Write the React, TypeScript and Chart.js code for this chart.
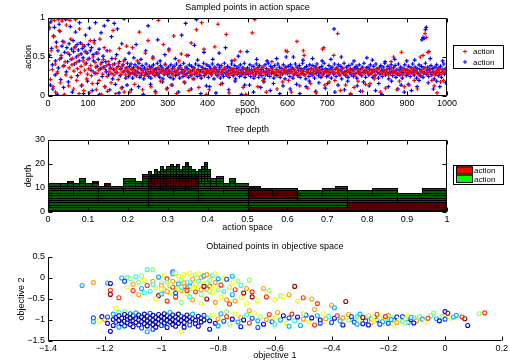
import React, { useEffect, useRef } from "react";
import { Chart, registerables } from "chart.js";
Chart.register(...registerables);

const FONT = "'Liberation Sans', Arial, Helvetica, sans-serif";

// ---------- tick labels ----------
const epochTicks = [0, 100, 200, 300, 400, 500, 600, 700, 800, 900, 1000];
const actionTicks = [0, 0.5, 1];
const spaceTicks = [0, 0.1, 0.2, 0.3, 0.4, 0.5, 0.6, 0.7, 0.8, 0.9, 1];
const depthTicks = [0, 10, 20, 30];
const obj1Ticks = [-1.4, -1.2, -1, -0.8, -0.6, -0.4, -0.2, 0, 0.2];
const obj2Ticks = [-1.5, -1, -0.5, 0, 0.5];

// ---------- panel 1: sampled points [epoch, action] ----------
const redPoints: number[][] = [
[1,.45],[3,.93],[4,.88],[6,.21],[8,.58],[9,.99],[11,.34],[13,.12],[14,.76],[16,.97],[18,.41],[19,.05],[21,.63],[23,.29],[24,.31],[26,.98],[28,.84],[29,.47],[31,.17],[33,.52],[35,.96],[36,.99],[38,.38],[40,.69],[41,.02],[43,.44],[45,.27],[46,.91],[48,.99],[50,.55],[52,.13],[53,.36],[55,.97],[57,.73],[58,.24],[60,.4],[62,.48],[64,.09],[65,.32],[67,.62],[69,.98],[71,.43],[72,.2],[74,.35],[76,.52],[78,.03],[79,.86],[81,.3],[83,.38],[85,.14],[86,.66],[88,.45],[90,.07],[92,.33],[93,.41],[95,.57],[97,.22],[99,.28],
[100,.47],[102,.35],[104,.04],[106,.71],[107,.39],[109,.26],[111,.16],[113,.5],[114,.31],[116,.68],[118,.43],[120,.37],[121,.08],[123,.29],[125,.55],[127,.33],[128,.2],[130,.73],[132,.41],[134,.02],[135,.36],[137,.28],[139,.47],[141,.62],[142,.12],[144,.34],[146,.39],[148,.25],[149,.06],[151,.44],[153,.31],[155,.58],[156,.35],[158,.17],[160,.29],[162,.4],[163,.84],[165,.27],[167,.33],[169,.48],[170,.03],[172,.36],[174,.3],[176,.21],[177,.42],[179,.61],[181,.34],[183,.28],[184,.1],[186,.38],[188,.31],[190,.45],[191,.05],[193,.33],[195,.27],[197,.64],[198,.36],
[201,.32],[205,.28],[209,.35],[212,.3],[216,.33],[220,.27],[224,.31],[227,.36],[231,.29],[235,.33],[238,.3],[242,.26],[246,.34],[250,.31],[253,.28],[257,.35],[261,.3],[264,.33],[268,.27],[272,.32],[276,.36],[279,.29],[283,.31],[287,.34],[290,.28],[294,.32],[298,.3],
[205,.05],[212,.62],[217,.15],[224,.45],[229,.82],[237,.08],[244,.55],[251,.71],[258,.12],[263,.48],[270,.04],[277,.97],[282,.19],[289,.66],[294,.41],[297,.09],
[302,.34],[305,.29],[309,.31],[313,.27],[316,.35],[320,.3],[324,.32],[328,.28],[331,.36],[335,.31],[339,.29],[342,.33],[346,.27],[350,.34],[354,.3],[357,.32],[361,.28],[365,.35],[368,.31],[372,.29],[376,.33],[380,.3],[383,.26],[387,.34],[391,.31],[394,.28],[398,.33],
[303,.58],[309,.14],[315,.77],[322,.03],[328,.45],[334,.54],[341,.18],[347,.52],[353,.07],[359,.68],[366,.22],[372,.85],[378,.11],[385,.94],[391,.6],[397,.02],
[402,.3],[406,.33],[409,.28],[413,.31],[417,.35],[420,.29],[424,.32],[428,.27],[431,.34],[435,.3],[439,.33],[442,.36],[446,.29],[450,.31],[453,.27],[457,.33],[461,.3],[464,.35],[468,.28],[472,.32],[475,.3],[479,.34],[483,.29],[486,.31],[490,.36],[494,.28],[497,.32],
[404,.08],[418,.63],[426,.92],[433,.15],[447,.79],[454,.04],[468,.46],[482,.57],[489,.11],[496,.02],
[501,.31],[505,.34],[508,.29],[512,.32],[516,.27],[519,.35],[523,.3],[527,.33],[530,.28],[534,.31],[538,.36],[541,.3],[545,.27],[549,.33],[552,.31],[556,.29],[560,.35],[563,.32],[567,.28],[571,.3],[574,.34],[578,.31],[582,.27],[585,.33],[589,.3],[593,.35],[596,.29],
[512,.81],[518,.98],[526,.12],[539,.2],[547,.05],[561,.44],[574,.09],[588,.18],[596,.58],[600,.57],
[600,.32],[604,.29],[607,.34],[611,.31],[615,.27],[618,.33],[622,.3],[626,.36],[629,.28],[633,.32],[637,.3],[640,.34],[644,.27],[648,.31],[651,.33],[655,.29],[659,.35],[662,.3],[666,.28],[670,.32],[673,.36],[677,.31],[681,.29],[684,.33],[688,.27],[692,.31],[695,.34],[699,.3],
[603,.2],[610,.05],[624,.7],[631,.13],[640,.58],[642,.52],[651,.1],[658,.16],[672,.04],[688,.6],[691,.62],[694,.14],
[703,.32],[706,.28],[710,.34],[714,.31],[717,.29],[721,.35],[725,.3],[728,.33],[732,.27],[736,.31],[739,.36],[743,.3],[747,.28],[750,.33],[754,.31],[758,.35],[761,.29],[765,.32],[769,.27],[772,.34],[776,.3],[780,.32],[783,.28],[787,.35],[791,.31],[794,.29],[798,.33],
[705,.18],[716,.52],[719,.2],[726,.8],[733,.07],[746,.14],[758,.03],[767,.11],[777,.19],[788,.06],[796,.15],
[801,.31],[805,.28],[809,.34],[812,.3],[816,.33],[820,.27],[823,.32],[827,.35],[831,.29],[834,.31],[838,.28],[842,.34],[845,.3],[849,.33],[853,.27],[856,.31],[860,.36],[864,.29],[867,.32],[871,.3],[875,.34],[878,.28],[882,.31],[886,.33],[889,.27],[893,.35],[897,.3],
[807,.16],[818,.22],[833,.05],[846,.1],[860,.44],[866,.5],[874,.08],[881,.19],[886,.56],[893,.12],
[901,.33],[904,.29],[908,.31],[912,.35],[915,.28],[919,.32],[923,.3],[926,.34],[930,.27],[934,.31],[937,.33],[941,.29],[945,.36],[948,.3],[952,.28],[956,.32],[959,.34],[963,.29],[967,.31],[970,.27],[974,.33],[978,.3],[981,.35],[985,.28],[989,.32],[992,.3],[996,.34],[999,.29],
[905,.14],[918,.2],[926,.09],[933,.5],[940,.52],[945,.8],[948,.75],[952,.56],[955,.57],[962,.2],[968,.13],[975,.04],[984,.18],[991,.2]
];

const bluePoints: number[][] = [
[1,.33],[2,.86],[4,.52],[6,.14],[7,.95],[9,.61],[11,.4],[12,.09],[14,.77],[16,.88],[18,.27],[19,.45],[21,.69],[23,.02],[25,.58],[26,.36],[28,.92],[30,.83],[32,.21],[33,.49],[35,.64],[37,.7],[39,.11],[40,.39],[42,.56],[44,.98],[46,.31],[47,.62],[49,.44],[51,.18],[53,.67],[54,.53],[56,.89],[58,.47],[59,.6],[61,.05],[63,.71],[64,.57],[66,.41],[68,.63],[69,.82],[71,.5],[73,.66],[74,.26],[76,.59],[78,.45],[79,.94],[81,.68],[83,.54],[84,.13],[86,.61],[88,.49],[89,.03],[91,.64],[93,.57],[94,.78],[96,.42],[98,.55],[99,.19],
[101,.66],[103,.48],[104,.87],[106,.58],[108,.33],[109,.62],[111,.07],[113,.53],[114,.45],[116,.71],[118,.29],[119,.94],[121,.55],[123,.38],[124,.16],[126,.47],[128,.6],[129,.02],[131,.35],[133,.81],[135,.43],[136,.25],[138,.51],[140,.37],[141,.9],[143,.12],[145,.44],[146,.31],[148,.58],[150,.97],[152,.27],[153,.4],[155,.08],[157,.36],[159,.76],[160,.48],[162,.22],[164,.34],[166,.93],[167,.41],[169,.15],[171,.3],[172,.53],[174,.86],[176,.38],[178,.04],[179,.44],[181,.26],[183,.35],[185,.67],[186,.11],[188,.4],[190,.31],[191,.99],[193,.47],[195,.23],[196,.36],[198,.14],[199,.42],
[200,.31],[202,.25],[204,.38],[206,.29],[208,.41],[210,.34],[212,.23],[214,.36],[216,.28],[218,.4],[220,.32],[222,.26],[224,.37],[226,.3],[228,.42],[230,.24],[232,.35],[234,.27],[236,.39],[238,.33],[240,.22],[242,.36],[244,.3],[246,.41],[248,.28],[250,.34],[252,.25],[254,.38],[256,.31],[258,.23],[260,.37],[262,.29],[264,.4],[266,.33],[268,.26],[270,.35],[272,.3],[274,.42],[276,.27],[278,.34],[280,.24],[282,.39],[284,.31],[286,.36],[288,.22],[290,.33],[292,.28],[294,.4],[296,.3],[298,.35],
[203,.55],[209,.08],[215,.49],[221,.66],[227,.12],[233,.47],[239,.02],[245,.58],[251,.9],[257,.15],[263,.5],[269,.06],[275,.72],[281,.45],[287,.18],[293,.53],[299,.1],[262,1.0],
[300,.27],[302,.37],[304,.32],[306,.24],[308,.4],[310,.29],[312,.35],[314,.22],[316,.38],[318,.31],[320,.26],[322,.41],[324,.33],[326,.28],[328,.36],[330,.23],[332,.39],[334,.3],[336,.34],[338,.25],[340,.42],[342,.32],[344,.27],[346,.37],[348,.29],[350,.35],[352,.24],[354,.4],[356,.31],[358,.26],[360,.38],[362,.33],[364,.22],[366,.36],[368,.28],[370,.41],[372,.3],[374,.25],[376,.34],[378,.39],[380,.27],[382,.32],[384,.23],[386,.37],[388,.31],[390,.42],[392,.26],[394,.35],[396,.29],[398,.4],
[303,.6],[311,.14],[319,.48],[327,.05],[335,.78],[343,.17],[351,.52],[359,.09],[367,.65],[375,.46],[383,.03],[391,.56],[397,.13],[345,.93],[372,.98],
[400,.33],[402,.24],[404,.38],[406,.3],[408,.35],[410,.27],[412,.41],[414,.32],[416,.22],[418,.37],[420,.29],[422,.34],[424,.26],[426,.4],[428,.31],[430,.36],[432,.23],[434,.39],[436,.28],[438,.33],[440,.25],[442,.42],[444,.3],[446,.35],[448,.27],[450,.38],[452,.32],[454,.24],[456,.36],[458,.29],[460,.41],[462,.34],[464,.26],[466,.31],[468,.39],[470,.22],[472,.35],[474,.28],[476,.37],[478,.3],[480,.25],[482,.4],[484,.33],[486,.27],[488,.36],[490,.3],[492,.42],[494,.24],[496,.34],[498,.29],
[405,.12],[413,.47],[421,.04],[429,.55],[437,.16],[445,.62],[453,.08],[461,.45],[469,.19],[477,.51],[485,.02],[493,.14],[499,.57],
[500,.36],[502,.28],[504,.32],[506,.4],[508,.25],[510,.34],[512,.3],[514,.38],[516,.23],[518,.33],[520,.27],[522,.41],[524,.31],[526,.36],[528,.24],[530,.39],[532,.29],[534,.34],[536,.26],[538,.37],[540,.32],[542,.22],[544,.4],[546,.3],[548,.35],[550,.27],[552,.42],[554,.33],[556,.25],[558,.38],[560,.29],[562,.36],[564,.31],[566,.23],[568,.39],[570,.28],[572,.34],[574,.26],[576,.41],[578,.32],[580,.37],[582,.24],[584,.3],[586,.35],[588,.28],[590,.4],[592,.33],[594,.22],[596,.37],[598,.31],
[505,.14],[515,.05],[523,.47],[533,.11],[541,.18],[549,.45],[557,.07],[565,.16],[573,.48],[581,.03],[589,.13],[597,.5],
[600,.29],[602,.38],[604,.33],[606,.25],[608,.4],[610,.31],[612,.36],[614,.23],[616,.34],[618,.28],[620,.41],[622,.3],[624,.37],[626,.26],[628,.33],[630,.39],[632,.24],[634,.35],[636,.29],[638,.42],[640,.32],[642,.27],[644,.36],[646,.22],[648,.38],[650,.31],[652,.34],[654,.25],[656,.4],[658,.3],[660,.35],[662,.27],[664,.39],[666,.33],[668,.23],[670,.37],[672,.29],[674,.41],[676,.32],[678,.26],[680,.36],[682,.3],[684,.24],[686,.38],[688,.34],[690,.28],[692,.42],[694,.31],[696,.35],[698,.25],
[607,.09],[615,.5],[623,.15],[631,.03],[639,.46],[647,.12],[655,.19],[663,.48],[671,.06],[679,.17],[687,.45],[695,.1],
[700,.33],[702,.26],[704,.39],[706,.3],[708,.35],[710,.23],[712,.37],[714,.31],[716,.28],[718,.41],[720,.34],[722,.25],[724,.36],[726,.3],[728,.4],[730,.27],[732,.33],[734,.38],[736,.22],[738,.35],[740,.29],[742,.42],[744,.31],[746,.26],[748,.37],[750,.32],[752,.24],[754,.39],[756,.3],[758,.34],[760,.27],[762,.41],[764,.33],[766,.25],[768,.36],[770,.29],[772,.38],[774,.23],[776,.35],[778,.31],[780,.4],[782,.28],[784,.34],[786,.26],[788,.37],[790,.3],[792,.42],[794,.32],[796,.24],[798,.36],
[701,.16],[709,.47],[717,.86],[719,.05],[727,.14],[735,.5],[743,.08],[751,.19],[759,.02],[767,.45],[775,.13],[783,.06],[791,.18],[799,.49],
[800,.31],[802,.37],[804,.27],[806,.34],[808,.4],[810,.29],[812,.33],[814,.24],[816,.38],[818,.32],[820,.26],[822,.41],[824,.35],[826,.3],[828,.23],[830,.36],[832,.28],[834,.39],[836,.33],[838,.25],[840,.37],[842,.31],[844,.42],[846,.27],[848,.34],[850,.3],[852,.38],[854,.22],[856,.35],[858,.29],[860,.4],[862,.32],[864,.26],[866,.36],[868,.3],[870,.39],[872,.24],[874,.33],[876,.28],[878,.41],[880,.34],[882,.27],[884,.37],[886,.31],[888,.23],[890,.35],[892,.3],[894,.4],[896,.33],[898,.26],
[805,.13],[813,.46],[821,.07],[829,.16],[837,.02],[845,.44],[853,.12],[861,.19],[869,.47],[877,.09],[885,.14],[893,.05],[899,.45],
[900,.34],[902,.28],[904,.38],[906,.31],[908,.25],[910,.36],[912,.3],[914,.41],[916,.33],[918,.27],[920,.37],[922,.32],[924,.23],[926,.35],[928,.29],[930,.4],[932,.34],[934,.26],[936,.38],[938,.31],[940,.24],[942,.36],[944,.3],[946,.42],[948,.28],[950,.33],[952,.37],[954,.25],[956,.34],[958,.3],[960,.39],[962,.27],[964,.35],[966,.31],[968,.22],[970,.37],[972,.29],[974,.4],[976,.33],[978,.26],[980,.36],[982,.3],[984,.38],[986,.24],[988,.34],[990,.31],[992,.41],[994,.28],[996,.35],[998,.3],
[903,.15],[911,.07],[919,.46],[925,.12],[930,.2],[937,.72],[940,.75],[943,.74],[946,.85],[948,.88],[953,.17],[958,.48],[966,.09],[974,.19],[982,.12],[989,.45],[996,.17]
];

// ---------- panel 2: tree leaves [start, end, depth] ----------
const treeLeaves: number[][] = [
[0,.03125,12],[.03125,.046875,12],[.046875,.0625,13],[.0625,.078125,12],[.078125,.09375,14],[.09375,.109375,12],[.109375,.125,13],[.125,.140625,11],[.140625,.15625,12],[.15625,.1875,11],[.1875,.21875,14],[.21875,.234375,13],[.234375,.25,16],
[.25,.2578125,17],[.2578125,.265625,16],[.265625,.2734375,18],[.2734375,.28125,17],[.28125,.2890625,19],[.2890625,.296875,18],[.296875,.3046875,19],[.3046875,.3125,20],[.3125,.3203125,19],[.3203125,.328125,20],[.328125,.3359375,18],[.3359375,.34375,19],[.34375,.3515625,21],[.3515625,.359375,19],[.359375,.3671875,18],[.3671875,.375,17],
[.375,.3828125,18],[.3828125,.390625,19],[.390625,.3984375,21],[.3984375,.40625,18],[.40625,.421875,14],[.421875,.4375,15],[.4375,.453125,12],[.453125,.46875,14],[.46875,.5,12],
[.5,.53125,11],[.53125,.5625,10],[.5625,.625,10],[.625,.6875,9],[.6875,.71875,10],[.71875,.75,11],[.75,.8125,9],[.8125,.875,10],[.875,.9375,8],[.9375,1,10]
];
// red (first action) blocks: [start, end, fromLevel, toLevel)
const treeRedBlocks: number[][] = [
[.046875,.0625,12,13],[.109375,.125,12,13],[.140625,.15625,11,12],[.25,.375,9,16],[.5,.5625,6,11],[.5625,.625,6,9],[.5,.75,0,2],[.75,1,0,4]
];

// ---------- panel 3: objective points [obj1, obj2, colour index] ----------
const objPoints: number[][] = [
[-1.28,-0.18,3],[-1.24,-0.11,7],[-1.19,-0.12,3],[-1.18,-0.13,1],[-1.18,-0.29,8],[-1.18,-0.39,9],[-1.15,-0.47,8],[-1.16,-0.72,6],[-1.13,-0.8,5],
[-1.14,0.0,3],[-1.12,0.01,4],[-1.11,-0.02,5],[-1.09,0.03,4],[-1.1,-0.15,7],[-1.12,-0.22,6],[-1.1,-0.3,8],[-1.08,-0.1,5],[-1.07,-0.25,3],[-1.08,-0.4,7],[-1.06,-0.05,6],[-1.05,0.2,4],[-1.03,0.2,5],[-1.05,-0.18,8],[-1.04,-0.32,4],[-1.03,-0.08,7],[-1.02,-0.22,6],[-1.01,0.02,3],[-1.01,-0.42,9],[-1.0,-0.12,5],[-0.99,-0.28,7],[-0.99,0.05,6],[-0.98,-0.02,8],[-0.97,-0.19,4],[-0.97,-0.35,6],[-0.96,0.15,2],[-0.96,0.1,3],[-0.96,-0.08,7],[-0.95,-0.25,5],[-0.95,-0.45,8],[-0.94,0.04,6],[-0.94,-0.14,3],[-0.93,-0.3,7],[-0.93,-0.05,5],[-0.92,0.08,6],[-0.92,-0.2,8],[-0.91,-0.1,4],[-0.91,-0.38,6],[-0.9,0.1,6],[-0.9,-0.27,5],[-0.89,-0.03,7],[-0.89,-0.16,3],[-0.88,0.07,5],[-0.88,-0.33,8],[-0.87,-0.22,6],[-0.87,-0.08,4],[-0.86,0.01,7],[-0.86,-0.4,5],[-0.85,-0.14,6],[-0.85,0.05,3],[-0.84,-0.26,7],[-0.84,-0.5,9],[-0.83,-0.06,5],[-0.83,-0.19,8],[-0.82,-0.35,6],[-0.82,0.06,4],[-0.81,-0.11,7],[-0.81,-0.58,7],[-0.8,-0.28,5],[-0.8,-0.02,3],[-0.79,-0.45,6],[-0.79,-0.17,8],[-0.78,0.0,6],[-0.78,-0.32,4],[-0.77,-0.03,2],[-0.77,-0.52,7],[-0.76,-0.22,5],[-0.76,-0.62,8],[-0.75,-0.12,6],[-0.75,-0.4,3],[-0.74,-0.55,7],[-0.74,-0.28,8],[-0.73,-0.07,5],[-0.72,-0.47,6],[-0.72,-0.18,4],[-0.71,-0.36,9],[-0.7,-0.6,6],[-0.7,-0.25,7],[-0.69,-0.05,5],[-0.68,-0.33,8],[-0.68,-0.45,9],[-0.66,-0.54,6],[-0.64,-0.25,7],[-0.63,-0.45,8],[-0.62,-0.3,5],[-0.6,-0.52,6],[-0.58,-0.42,5],[-0.57,-0.44,6],[-0.55,-0.4,7],[-0.53,-0.2,9],[-0.52,-0.55,6],[-0.5,-0.47,8],[-0.47,-0.5,7],[-0.45,-0.61,8],[-0.46,-0.75,7],[-0.4,-0.65,7],[-0.39,-0.71,3],[-0.35,-0.56,9],
[-1.13,-0.08,2],[-1.06,-0.35,4],[-1.02,-0.5,6],[-0.98,-0.55,8],[-0.93,-0.58,5],[-0.89,-0.52,7],[-0.86,-0.6,6],[-1.0,-0.38,3],[-0.95,-0.36,2],[-0.9,-0.45,4],[-1.07,0.05,5],[-0.95,0.12,5],[-0.9,0.12,6],[-0.87,0.1,6],[-0.84,0.08,7],[-0.81,0.1,6],[-0.75,0.04,3],
[-1.0,-0.18,7],[-0.98,-0.1,5],[-0.96,-0.22,8],[-0.94,-0.26,6],[-0.92,-0.12,7],[-0.9,-0.2,3],[-0.88,-0.14,6],[-0.86,-0.28,7],[-0.84,-0.12,5],[-0.82,-0.24,6],[-0.97,-0.14,6],[-0.93,-0.22,4],[-0.91,-0.3,8],[-0.89,-0.24,6],[-0.85,-0.2,9],[-0.83,-0.32,5],[-1.03,-0.15,4],[-1.0,-0.26,6],[-0.98,-0.32,7],
[-0.84,-0.95,4],[-0.83,-1.02,0],[-0.82,-0.88,6],[-0.81,-1.08,1],[-0.8,-0.97,7],[-0.79,-0.85,3],[-0.78,-1.03,2],[-0.77,-0.92,8],[-0.76,-1.1,5],[-0.75,-0.98,1],[-0.74,-0.86,6],[-0.73,-1.05,3],[-0.72,-0.94,7],[-0.71,-1.0,0],[-0.7,-0.88,4],[-0.69,-1.07,8],[-0.68,-0.96,2],[-0.67,-0.84,6],[-0.66,-1.02,3],[-0.65,-0.93,5],[-0.64,-1.1,1],[-0.63,-0.99,7],[-0.62,-0.87,8],[-0.61,-1.04,2],[-0.6,-0.95,6],[-0.8,-1.14,3],[-0.72,-1.16,1],[-0.66,-1.18,2],[-0.77,-0.8,5],[-0.69,-0.78,7],
[-0.59,-0.82,7],[-0.58,-1.0,3],[-0.57,-0.9,1],[-0.56,-1.08,6],[-0.55,-0.95,2],[-0.54,-0.86,8],[-0.53,-1.02,4],[-0.52,-0.93,1],[-0.51,-1.13,3],[-0.5,-0.98,7],[-0.49,-0.88,2],[-0.48,-1.05,6],[-0.47,-0.95,1],[-0.46,-1.12,8],[-0.45,-0.9,3],[-0.44,-1.0,0],[-0.43,-0.85,6],[-0.42,-0.97,7],[-0.41,-0.92,4],[-0.4,-1.06,2],[-0.39,-0.96,1],[-0.38,-0.9,8],[-0.37,-1.02,3],[-0.35,-0.93,6],[-0.34,-0.87,7],[-0.33,-0.98,3],[-0.32,-1.05,2],[-0.31,-0.92,4],[-0.3,-0.99,6],[-0.3,-0.86,3],[-0.29,-1.09,1],[-0.28,-0.95,7],[-0.28,-1.02,2],[-0.27,-0.9,5],[-0.26,-0.97,3],[-0.26,-1.06,7],[-0.25,-0.93,6],[-0.24,-1.0,1],[-0.24,-0.87,8],[-0.23,-0.96,5],[-0.22,-1.04,3],[-0.22,-0.91,6],[-0.21,-0.98,4],[-0.2,-1.08,2],[-0.2,-0.89,7],[-0.19,-0.95,5],[-0.18,-1.01,3],[-0.17,-0.93,1],[-0.16,-0.98,6],[-0.15,-1.03,4],[-0.15,-0.92,2],[-0.14,-0.97,5],[-0.13,-1.06,3],[-0.13,-0.9,6],[-0.12,-0.99,1],[-0.11,-0.95,4],[-0.1,-1.02,7],[-0.09,-0.92,5],[-0.08,-0.98,3],[-0.07,-1.04,6],[-0.05,-0.9,4],[-0.04,-0.83,5],[-0.03,-0.97,3],[-0.01,-0.92,5],[0.0,-0.8,1],[0.01,-0.84,9],[0.02,-0.96,6],[0.03,-0.93,3],[0.04,-0.89,3],[0.06,-0.93,8],[0.07,-0.97,9],[0.08,-1.13,1],[0.12,-0.85,5],[0.14,-0.83,8],
[-0.6,-1.1,4],[-0.55,-1.15,3],[-0.5,-0.85,5],[-0.44,-1.08,2],[-0.36,-1.12,1],[-0.34,-1.0,5],[-0.31,-1.1,3],[-0.27,-1.12,1],[-0.23,-1.1,2],[-0.18,-1.1,6],[-0.14,-1.08,5],[-0.11,-1.07,1],[-0.06,-0.96,8],[-0.02,-1.02,1],[0.0,-0.98,2],[-0.36,-0.95,7],[-0.29,-0.94,9],[-0.21,-0.92,8],[-0.17,-1.06,7],[-0.12,-0.94,3],[-0.33,-0.92,2],[-0.25,-1.02,6],[-0.19,-0.99,3],
[-1.24,-0.95,2],[-1.24,-1.04,3],[-1.21,-0.92,1],[-1.2,-0.99,7],[-1.22,-1.02,6],[-1.18,-1.27,1],
[-1.14,-0.88,6],[-1.1,-0.96,3],[-1.06,-1.0,7],[-1.02,-0.9,5],[-0.99,-1.12,3],[-0.96,-1.02,8],[-0.93,-0.95,4],[-0.9,-0.98,6],[-1.08,-0.94,2],[-1.04,-1.02,3],[-1.0,-0.97,2],[-0.97,-0.99,4],[-1.12,-1.04,5],[-0.95,-0.88,7],[-1.03,-1.22,2],[-0.83,-1.22,1],
[-1.19,-0.93,2],[-1.19,-1.08,1],[-1.17,-0.86,3],[-1.17,-0.99,0],[-1.17,-1.13,1],[-1.16,-0.94,1],[-1.16,-1.05,2],[-1.15,-0.82,4],[-1.15,-0.9,0],[-1.15,-1.01,1],[-1.15,-1.17,3],[-1.14,-0.96,0],[-1.14,-1.09,0],[-1.13,-0.87,1],[-1.13,-1.03,0],[-1.13,-1.14,2],[-1.12,-0.92,0],[-1.12,-0.99,1],[-1.12,-1.07,0],[-1.11,-0.85,2],[-1.11,-0.95,0],[-1.11,-1.11,1],[-1.1,-0.9,0],[-1.1,-1.02,0],[-1.1,-1.16,0],[-1.09,-0.97,1],[-1.09,-1.06,0],[-1.09,-0.83,3],[-1.08,-0.88,0],[-1.08,-1.0,0],[-1.08,-1.12,1],[-1.07,-0.93,0],[-1.07,-1.04,1],[-1.07,-1.19,2],[-1.06,-0.86,1],[-1.06,-0.98,0],[-1.06,-1.09,0],[-1.05,-0.91,0],[-1.05,-1.02,0],[-1.05,-1.14,0],[-1.05,-1.28,3],[-1.04,-0.84,2],[-1.04,-0.96,0],[-1.04,-1.07,1],[-1.03,-0.89,0],[-1.03,-1.0,1],[-1.03,-1.11,0],[-1.02,-0.94,0],[-1.02,-1.05,0],[-1.02,-1.17,1],[-1.01,-0.87,1],[-1.01,-0.98,0],[-1.01,-1.09,0],[-1.0,-0.92,0],[-1.0,-1.03,0],[-1.0,-1.13,2],[-0.99,-0.85,0],[-0.99,-0.96,1],[-0.99,-1.07,0],[-0.98,-0.9,0],[-0.98,-1.01,0],[-0.98,-1.18,1],[-0.97,-0.94,0],[-0.97,-1.05,1],[-0.97,-0.82,3],[-0.96,-0.88,1],[-0.96,-0.99,0],[-0.96,-1.11,0],[-0.95,-0.93,0],[-0.95,-1.03,0],[-0.95,-1.15,1],[-0.94,-0.86,0],[-0.94,-0.97,1],[-0.94,-1.08,0],[-0.93,-0.91,2],[-0.93,-1.01,0],[-0.93,-1.28,6],[-0.92,-0.95,0],[-0.92,-1.06,1],[-0.92,-1.17,0],[-0.91,-0.88,0],[-0.91,-0.99,0],[-0.9,-0.93,1],[-0.9,-1.04,0],[-0.9,-1.12,2],[-0.89,-0.86,3],[-0.89,-0.97,0],[-0.88,-1.01,1],[-0.88,-1.09,0],[-0.87,-0.91,0],[-0.87,-1.15,1],[-0.86,-0.96,1],[-0.86,-1.05,0],[-0.85,-0.89,2],[-0.85,-1.0,0]
];

// jet-like colour map used for the objective points
const jetColors = ['#00008f', '#0000ee', '#0050ff', '#00b0ff', '#20ffe0', '#90ff70', '#f0ff10', '#ffa000', '#ff3000', '#a00000'];

// ---------- helpers ----------
const fmt = (v: number) => String(Math.round(v * 1000) / 1000).replace('-', '\u2212');
const tickFont = { family: FONT, size: 9 };

function fixedTicks(list: number[]) {
  return (s: any) => { s.ticks = list.map((value) => ({ value })); };
}

function splitLevel(v: number) {
  const lv = [0, 0, 2, 4, 7, 9, 11, 13, 15];
  for (let n = 1; n <= 8; n++) {
    const m = v * Math.pow(2, n);
    if (Math.abs(m - Math.round(m)) < 1e-7) return lv[n];
  }
  return 15;
}

const matlabAxes = {
  id: 'matlabAxes',
  afterDraw(chart: any, _args: any, opts: any) {
    const { ctx, chartArea: a, scales } = chart;
    const L = 4;
    const l = Math.round(a.left) + 0.5, r = Math.round(a.right) - 0.5;
    const t = Math.round(a.top) + 0.5, b = Math.round(a.bottom) - 0.5;
    ctx.save();
    ctx.strokeStyle = '#000';
    ctx.lineWidth = 1;
    ctx.beginPath();
    if (opts.box) {
      ctx.rect(l, t, r - l, b - t);
    } else {
      ctx.moveTo(l, t); ctx.lineTo(l, b); ctx.lineTo(r, b);
    }
    scales.x.ticks.forEach((tk: any) => {
      const x = Math.round(scales.x.getPixelForValue(tk.value)) + 0.5;
      ctx.moveTo(x, b); ctx.lineTo(x, b - L);
      if (opts.box) { ctx.moveTo(x, t); ctx.lineTo(x, t + L); }
    });
    scales.y.ticks.forEach((tk: any) => {
      const y = Math.round(scales.y.getPixelForValue(tk.value)) + 0.5;
      ctx.moveTo(l, y); ctx.lineTo(l + L, y);
      if (opts.box) { ctx.moveTo(r, y); ctx.lineTo(r - L, y); }
    });
    ctx.stroke();
    // title
    ctx.fillStyle = '#000';
    ctx.font = `9px ${FONT}`;
    ctx.textAlign = 'center';
    ctx.textBaseline = 'middle';
    ctx.fillText(opts.title, (a.left + a.right) / 2, opts.titleY);
    // legend
    const lg = opts.legend;
    if (lg) {
      ctx.fillStyle = '#fff';
      ctx.fillRect(lg.x, lg.y, lg.w, lg.h);
      ctx.strokeStyle = '#000';
      ctx.strokeRect(lg.x + 0.5, lg.y + 0.5, lg.w, lg.h);
      ctx.font = `8px ${FONT}`;
      ctx.textAlign = 'left';
      lg.items.forEach((it: any, i: number) => {
        const cy = lg.y + lg.rowTop + i * lg.rowH;
        if (it.kind === 'plus') {
          ctx.strokeStyle = it.color;
          ctx.lineWidth = 1;
          ctx.beginPath();
          ctx.moveTo(lg.x + 10, cy); ctx.lineTo(lg.x + 14, cy);
          ctx.moveTo(lg.x + 12, cy - 2); ctx.lineTo(lg.x + 12, cy + 2);
          ctx.stroke();
        } else {
          ctx.fillStyle = it.color;
          ctx.fillRect(lg.x + 3, cy - lg.rowH / 2, 17, lg.rowH);
          ctx.strokeStyle = '#000';
          ctx.strokeRect(lg.x + 3.5, cy - lg.rowH / 2 + 0.5, 16, lg.rowH - 1);
        }
        ctx.fillStyle = '#000';
        ctx.fillText(it.label, lg.x + lg.textX, cy + 0.5);
      });
    }
    ctx.restore();
  },
};

const treePlugin = {
  id: 'treeCells',
  beforeDatasetsDraw(chart: any) {
    const { ctx, scales: { x, y } } = chart;
    const py = (k: number) => Math.round(y.getPixelForValue(k));
    const px = (v: number) => Math.round(x.getPixelForValue(v));
    ctx.save();
    treeLeaves.forEach(([a, b, d]) => {
      const x0 = px(a), x1 = px(b);
      for (let k = 0; k < d; k++) {
        const red = treeRedBlocks.some(([ra, rb, l0, l1]) => a >= ra - 1e-9 && b <= rb + 1e-9 && k >= l0 && k < l1);
        ctx.fillStyle = red ? '#5c0000' : '#006000';
        ctx.fillRect(x0, py(k + 1), x1 - x0, py(k) - py(k + 1));
      }
    });
    ctx.strokeStyle = '#000';
    ctx.lineWidth = 1;
    ctx.beginPath();
    treeLeaves.forEach(([a, b, d]) => {
      const x0 = px(a), x1 = px(b);
      for (let k = 1; k <= d; k++) {
        const yy = py(k) + 0.5;
        ctx.moveTo(x0, yy); ctx.lineTo(x1, yy);
      }
    });
    treeLeaves.forEach(([a, , d], i) => {
      if (i === 0) return;
      const dp = treeLeaves[i - 1][2];
      const top = Math.max(d, dp);
      const from = Math.min(splitLevel(a), Math.min(d, dp));
      const xx = px(a) + 0.5;
      ctx.moveTo(xx, py(from)); ctx.lineTo(xx, py(top));
    });
    ctx.stroke();
    ctx.restore();
  },
};

function axis(min: number, max: number, ticks: number[], title: string, size: number, horizontal: boolean, titlePad: any) {
  return {
    type: 'linear',
    min, max,
    afterBuildTicks: fixedTicks(ticks),
    afterFit: (s: any) => { if (horizontal) s.height = size; else s.width = size; },
    ticks: { callback: (v: any) => fmt(Number(v)), font: tickFont, color: '#000', padding: horizontal ? 2 : 3, maxRotation: 0, autoSkip: false },
    grid: { display: false, drawTicks: false },
    border: { display: false },
    title: { display: true, text: title, font: tickFont, color: '#000', padding: titlePad },
  };
}

function useChart(ref: React.RefObject<HTMLCanvasElement>, make: () => any) {
  useEffect(() => {
    if (!ref.current) return;
    const chart = new Chart(ref.current, make());
    return () => chart.destroy();
  }, []);
}

export default function App() {
  const c1 = useRef<HTMLCanvasElement>(null);
  const c2 = useRef<HTMLCanvasElement>(null);
  const c3 = useRef<HTMLCanvasElement>(null);

  useChart(c1, () => ({
    type: 'scatter',
    data: {
      datasets: [
        { label: 'action', data: redPoints.map(([x, y]) => ({ x, y })), pointStyle: 'cross', pointRadius: 2, borderColor: '#ff0000', backgroundColor: '#ff0000', borderWidth: 1.2 },
        { label: 'action', data: bluePoints.map(([x, y]) => ({ x, y })), pointStyle: 'cross', pointRadius: 2, borderColor: '#0000ff', backgroundColor: '#0000ff', borderWidth: 1.2 },
      ],
    },
    options: {
      animation: false, responsive: false, events: [],
      layout: { padding: { top: 18, right: 63, left: 0, bottom: 0 } },
      plugins: {
        legend: { display: false }, tooltip: { enabled: false },
        matlabAxes: { box: true, title: 'Sampled points in action space', titleY: 8,
          legend: { x: 431, y: 45, w: 50, h: 23, rowTop: 6.5, rowH: 10.5, textX: 20, items: [
            { kind: 'plus', color: '#ff0000', label: 'action' },
            { kind: 'plus', color: '#0000ff', label: 'action' },
          ] } },
      },
      scales: {
        x: axis(0, 1000, epochTicks, 'epoch', 24, true, { top: 0, bottom: 3.6 }),
        y: axis(0, 1, actionTicks, 'action', 26, false, { top: 1.6, bottom: 0 }),
      },
    },
    plugins: [matlabAxes],
  }));

  useChart(c2, () => ({
    type: 'scatter',
    data: { datasets: [] },
    options: {
      animation: false, responsive: false, events: [],
      layout: { padding: { top: 20, right: 63, left: 0, bottom: 0 } },
      plugins: {
        legend: { display: false }, tooltip: { enabled: false },
        matlabAxes: { box: true, title: 'Tree depth', titleY: 10,
          legend: { x: 431, y: 45, w: 50, h: 19, rowTop: 5.5, rowH: 8.3, textX: 21, items: [
            { kind: 'patch', color: '#ff0000', label: 'action' },
            { kind: 'patch', color: '#00ff00', label: 'action' },
          ] } },
      },
      scales: {
        x: axis(0, 1, spaceTicks, 'action space', 22, true, { top: 0, bottom: 0.6 }),
        y: axis(0, 30, depthTicks, 'depth', 26, false, { top: 1.6, bottom: 0 }),
      },
    },
    plugins: [treePlugin, matlabAxes],
  }));

  useChart(c3, () => ({
    type: 'scatter',
    data: {
      datasets: [
        { label: 'points', data: objPoints.map(([x, y]) => ({ x, y })),
          pointStyle: 'circle', pointRadius: 2, borderWidth: 1.1,
          borderColor: objPoints.map((p) => jetColors[p[2]]),
          backgroundColor: 'rgba(255,255,255,0.75)' },
      ],
    },
    options: {
      animation: false, responsive: false, events: [],
      layout: { padding: { top: 23, right: 7, left: 0, bottom: 0 } },
      plugins: {
        legend: { display: false }, tooltip: { enabled: false },
        matlabAxes: { box: false, title: 'Obtained points in objective space', titleY: 12.5 },
      },
      scales: {
        x: axis(-1.4, 0.2, obj1Ticks, 'objective 1', 23, true, { top: 0, bottom: 2.6 }),
        y: axis(-1.5, 0.5, obj2Ticks, 'objective 2', 34, false, { top: 2, bottom: 0 }),
      },
    },
    plugins: [matlabAxes],
  }));

  return (
    <div style={{ position: 'fixed', left: 0, top: 0, width: 510, height: 364, background: '#fff', overflow: 'hidden' }}>
      <canvas ref={c1} width={488} height={120} style={{ position: 'absolute', left: 22, top: 0 }} />
      <canvas ref={c2} width={488} height={114} style={{ position: 'absolute', left: 22, top: 120 }} />
      <canvas ref={c3} width={496} height={130} style={{ position: 'absolute', left: 14, top: 234 }} />
    </div>
  );
}
